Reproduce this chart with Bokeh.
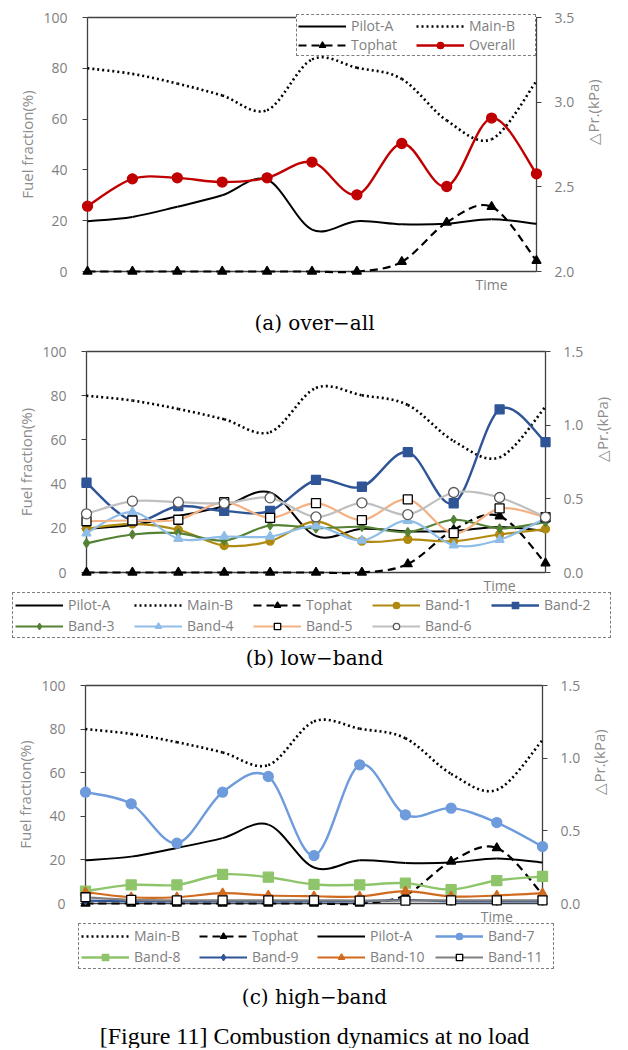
import math
from bokeh.plotting import figure
from bokeh.models import (Range1d, LinearAxis, FixedTicker, Legend, LegendItem,
                          ColumnDataSource, NumeralTickFormatter)
from bokeh.layouts import column
from bokeh.core.properties import value
from bokeh.embed import file_html
from bokeh.resources import INLINE

# ---------------- data ----------------
time_idx = list(range(11))
time_tick = [9]
time_label = "Time"
frac_ticks = [0, 20, 40, 60, 80, 100]
dp_ticks_a = [2.0, 2.5, 3.0, 3.5]
dp_ticks_bc = [0.0, 0.5, 1.0, 1.5]

# fuel fractions (%)
pilot_a = [19.8, 21.5, 25.5, 30.0, 36.2, 16.5, 19.8, 18.6, 18.8, 20.6, 18.8]
main_b = [80.0, 77.8, 74.0, 69.3, 63.5, 83.5, 80.2, 75.8, 59.5, 52.1, 75.0]
tophat = [0.0, 0.0, 0.0, 0.0, 0.0, 0.0, 0.0, 3.8, 19.3, 25.5, 4.2]

# pressure amplitude (kPa)
overall = [2.386, 2.547, 2.553, 2.528, 2.553, 2.646, 2.453, 2.756, 2.502, 2.906, 2.577]
band_1 = [0.297, 0.330, 0.290, 0.183, 0.213, 0.345, 0.213, 0.225, 0.213, 0.258, 0.295]
band_2 = [0.609, 0.353, 0.450, 0.418, 0.418, 0.628, 0.582, 0.817, 0.470, 1.107, 0.885]
band_3 = [0.199, 0.258, 0.267, 0.217, 0.319, 0.300, 0.310, 0.274, 0.358, 0.300, 0.342]
band_4 = [0.267, 0.410, 0.229, 0.244, 0.244, 0.315, 0.217, 0.352, 0.185, 0.222, 0.368]
band_5 = [0.348, 0.353, 0.358, 0.477, 0.371, 0.471, 0.356, 0.496, 0.267, 0.435, 0.375]
band_6 = [0.398, 0.484, 0.477, 0.470, 0.507, 0.377, 0.473, 0.393, 0.543, 0.509, 0.375]
band_7 = [0.766, 0.686, 0.415, 0.766, 0.874, 0.330, 0.954, 0.610, 0.656, 0.557, 0.392]
band_8 = [0.085, 0.128, 0.128, 0.200, 0.181, 0.131, 0.128, 0.140, 0.096, 0.158, 0.186]
band_9 = [0.020, 0.015, 0.015, 0.015, 0.015, 0.015, 0.015, 0.025, 0.015, 0.015, 0.015]
band_10 = [0.078, 0.043, 0.043, 0.071, 0.055, 0.050, 0.048, 0.085, 0.048, 0.055, 0.071]
band_11 = [0.043, 0.025, 0.022, 0.022, 0.022, 0.022, 0.020, 0.020, 0.022, 0.022, 0.022]

captions = ["(a) over\u2212all", "(b) low\u2212band", "(c) high\u2212band"]
figure_caption = "[Figure 11] Combustion dynamics at no load"
y_left_label = "Fuel fraction(%)"
y_right_label = "\u25b3Pr.(kPa)"

# ---------------- styles / layout ----------------
FONT = "Open Sans"
GRAY = "#7f7f7f"
AXIS = "#404040"
NAN = float("nan")
FIG_W = 620

STYLE = {
    "Pilot-A": dict(color="black", width=2.0, dash="solid", marker=None),
    "Main-B": dict(color="black", width=2.6, dash="2 3", marker=None),
    "Tophat": dict(color="black", width=2.2, dash="8 5", marker="triangle", size=9, fill="black", edge="black"),
    "Overall": dict(color="#c00000", width=2.4, dash="solid", marker="circle", size=10, fill="#c00000", edge="#c00000"),
    "Band-1": dict(color="#b08a10", width=2.2, dash="solid", marker="circle", size=8, fill="#b08a10", edge="#b08a10"),
    "Band-2": dict(color="#2f5597", width=2.4, dash="solid", marker="square", size=9, fill="#2f5597", edge="#2f5597"),
    "Band-3": dict(color="#548235", width=2.2, dash="solid", marker="diamond", size=9, fill="#548235", edge="#548235"),
    "Band-4": dict(color="#8fbde8", width=2.2, dash="solid", marker="triangle", size=9, fill="#8fbde8", edge="#8fbde8"),
    "Band-5": dict(color="#f4b183", width=2.2, dash="solid", marker="square", size=9, fill="white", edge="black"),
    "Band-6": dict(color="#bfbfbf", width=2.2, dash="solid", marker="circle", size=10, fill="white", edge="#595959"),
    "Band-7": dict(color="#6e9bdc", width=2.4, dash="solid", marker="circle", size=10, fill="#6e9bdc", edge="#6e9bdc"),
    "Band-8": dict(color="#8fc56a", width=2.4, dash="solid", marker="square", size=10, fill="#8fc56a", edge="#8fc56a"),
    "Band-9": dict(color="#2f5597", width=2.2, dash="solid", marker="diamond", size=8, fill="#2f5597", edge="#2f5597"),
    "Band-10": dict(color="#d06a1e", width=2.2, dash="solid", marker="triangle", size=9, fill="#d06a1e", edge="#d06a1e"),
    "Band-11": dict(color="#808080", width=2.2, dash="solid", marker="square", size=9, fill="white", edge="black"),
}


def smooth_segments(xs, ys):
    """Excel-like smoothed line: cubic Bezier control points between data points."""
    n = len(xs)
    d = {k: [] for k in ("x0", "y0", "x1", "y1", "cx0", "cy0", "cx1", "cy1")}
    for i in range(n - 1):
        a = max(i - 1, 0)
        b = min(i + 2, n - 1)
        d["x0"].append(xs[i]); d["y0"].append(ys[i])
        d["x1"].append(xs[i + 1]); d["y1"].append(ys[i + 1])
        d["cx0"].append(xs[i] + (xs[i + 1] - xs[a]) / 6.0)
        d["cy0"].append(ys[i] + (ys[i + 1] - ys[a]) / 6.0)
        d["cx1"].append(xs[i + 1] - (xs[b] - xs[i]) / 6.0)
        d["cy1"].append(ys[i + 1] - (ys[b] - ys[i]) / 6.0)
    return d


def draw_series(p, name, ys, on_right):
    st = STYLE[name]
    kw = {"y_range_name": "dp"} if on_right else {}
    p.bezier(x0="x0", y0="y0", x1="x1", y1="y1", cx0="cx0", cy0="cy0", cx1="cx1", cy1="cy1",
             source=ColumnDataSource(smooth_segments(time_idx, ys)),
             line_color=st["color"], line_width=st["width"], line_dash=st["dash"],
             level="overlay", **kw)
    proxy = p.line(x=[NAN], y=[NAN], line_color=st["color"], line_width=st["width"],
                   line_dash=st["dash"], **kw)
    rends = [proxy]
    if st["marker"]:
        s = p.scatter(x=time_idx, y=ys, marker=st["marker"], size=st["size"],
                      fill_color=st["fill"], line_color=st["edge"], line_width=1.3,
                      level="overlay", **kw)
        rends.append(s)
    return LegendItem(label=name, renderers=rends)


def make_panel(H, L, R, T, B, dp_range, dp_ticks, series, legend_order, ncols,
               leg, caps):
    """H: figure height; L,R: plot-area left/right px; T,B: plot-area top/bottom px."""
    ux = 10.0 / (R - L)
    sy = 100.0 / (B - T)
    dlo, dhi = dp_range
    sd = (dhi - dlo) / (B - T)
    p = figure(frame_width=FIG_W, frame_height=H, min_border=0,
               x_range=Range1d(-L * ux, 10 + (FIG_W - R) * ux),
               y_range=Range1d(-(H - B) * sy, 100 + T * sy),
               x_axis_location=None, y_axis_location=None,
               output_backend="svg", toolbar_location=None,
               background_fill_color="white", border_fill_color="white",
               outline_line_color=None)
    p.grid.visible = False
    p.extra_y_ranges = {"dp": Range1d(dlo - (H - B) * sd, dhi + T * sd)}

    yl = LinearAxis(ticker=FixedTicker(ticks=frac_ticks), axis_label=y_left_label,
                    fixed_location=0, bounds=(0, 100))
    yr = LinearAxis(y_range_name="dp", ticker=FixedTicker(ticks=dp_ticks),
                    formatter=NumeralTickFormatter(format="0.0"), axis_label=y_right_label,
                    fixed_location=10, bounds=(dlo, dhi))
    xb = LinearAxis(ticker=FixedTicker(ticks=time_tick),
                    major_label_overrides={time_tick[0]: time_label},
                    fixed_location=0, bounds=(0, 10))
    xt = LinearAxis(ticker=FixedTicker(ticks=[]), fixed_location=100, bounds=(0, 10))
    for ax in (yl, yr, xb, xt):
        ax.axis_line_color = AXIS
        ax.axis_line_width = 1.3
        ax.major_tick_line_color = AXIS
        ax.major_tick_line_width = 1.2
        ax.major_tick_out = 5
        ax.major_tick_in = 0
        ax.minor_tick_out = 0
        ax.minor_tick_in = 0
        ax.major_label_text_font = FONT
        ax.major_label_text_font_size = "14px"
        ax.major_label_text_color = GRAY
        ax.axis_label_text_font = FONT
        ax.axis_label_text_font_size = "15px"
        ax.axis_label_text_font_style = "normal"
        ax.axis_label_text_color = "#8c8c8c"
    yl.major_label_standoff = 15
    yl.axis_label_standoff = 3
    yr.major_label_standoff = 13
    yr.axis_label_standoff = 16
    try:
        yr.axis_label_orientation = math.pi / 2
    except Exception:
        pass
    xb.major_tick_out = 0
    xb.major_label_standoff = 3
    xt.major_tick_out = 0
    p.add_layout(yl, "left")
    p.add_layout(yr, "right")
    p.add_layout(xb, "below")
    p.add_layout(xt, "above")

    items = {}
    for name, ys, right in series:
        items[name] = draw_series(p, name, ys, right)

    legend = Legend(items=[items[n] for n in legend_order], ncols=ncols,
                    orientation="horizontal", location=(leg["left"], H - leg["bottom"]),
                    glyph_width=48, glyph_height=16, label_height=16,
                    label_width=leg["label_w"], label_standoff=5,
                    spacing=leg["spacing"], padding=leg["padding"], margin=0,
                    label_text_font=FONT, label_text_font_size="14px", label_text_color=GRAY,
                    border_line_color="black", border_line_width=1, border_line_dash="1 1",
                    background_fill_color="white", background_fill_alpha=1.0)
    p.add_layout(legend)

    # captions (page-pixel centre -> data coordinates of this panel)
    for text, cy, font, size in caps:
        p.text(x=[(314 - L) * ux], y=[100 - (cy - T) * sy], text=[text],
               text_font=value(font), text_font_size=size,
               text_align="center", text_baseline="middle", text_color="black")
    return p


pa = make_panel(337, 87, 536, 17, 271, (2.0, 3.5), dp_ticks_a,
                [("Pilot-A", pilot_a, False), ("Main-B", main_b, False),
                 ("Tophat", tophat, False), ("Overall", overall, True)],
                ["Pilot-A", "Main-B", "Tophat", "Overall"], 2,
                dict(label_w=65, spacing=0, padding=1, left=296, bottom=56),
                [(captions[0], 322, "DejaVu Serif", "20px")])

pb = make_panel(333, 86, 545, 14, 235, (0.0, 1.5), dp_ticks_bc,
                [("Pilot-A", pilot_a, False), ("Main-B", main_b, False),
                 ("Tophat", tophat, False), ("Band-1", band_1, True),
                 ("Band-2", band_2, True), ("Band-3", band_3, True),
                 ("Band-4", band_4, True), ("Band-5", band_5, True),
                 ("Band-6", band_6, True)],
                ["Pilot-A", "Main-B", "Tophat", "Band-1", "Band-2",
                 "Band-3", "Band-4", "Band-5", "Band-6"], 5,
                dict(label_w=64, spacing=2, padding=2, left=12, bottom=301),
                [(captions[1], 320, "DejaVu Serif", "20px")])

pc = make_panel(378, 85, 542, 15, 233, (0.0, 1.5), dp_ticks_bc,
                [("Main-B", main_b, False), ("Tophat", tophat, False),
                 ("Pilot-A", pilot_a, False), ("Band-7", band_7, True),
                 ("Band-8", band_8, True), ("Band-9", band_9, True),
                 ("Band-10", band_10, True), ("Band-11", band_11, True)],
                ["Main-B", "Tophat", "Pilot-A", "Band-7",
                 "Band-8", "Band-9", "Band-10", "Band-11"], 4,
                dict(label_w=63, spacing=2, padding=2, left=78, bottom=299),
                [(captions[2], 326, "DejaVu Serif", "20px"),
                 (figure_caption, 365, "Liberation Serif", "24px")])

layout = column(pa, pb, pc, spacing=0)
open("out.html", "w").write(file_html(layout, INLINE))
